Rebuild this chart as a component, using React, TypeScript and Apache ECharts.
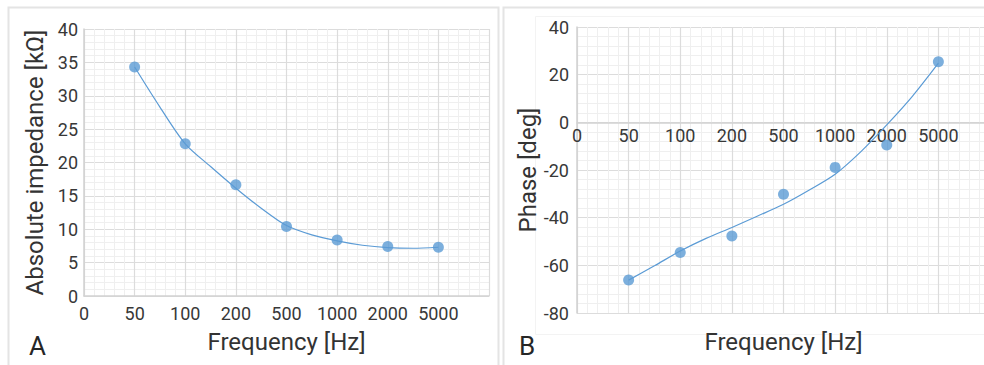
import React, { useEffect, useRef } from "react";
import * as echarts from "echarts";

const freqLabels = ["0", "50", "100", "200", "500", "1000", "2000", "5000"];
const impedance = [34.3, 22.8, 16.65, 10.4, 8.4, 7.4, 7.3];
// trendline read at half-category steps from index 1 (50 Hz) to 7 (5000 Hz)
const impedanceTrend = [34.3, 28.3, 22.8, 19.4, 16.15, 13.15, 10.55, 9.15, 8.25, 7.6, 7.25, 7.15, 7.3];
const phase = [-66.2, -54.6, -47.7, -30.2, -18.9, -9.5, 25.4];
const phaseTrend = [-66.2, -60.2, -54.0, -48.7, -44.1, -39.3, -34.4, -28.4, -21.8, -12.3, -1.1, 11.0, 24.8];

const FONT = "Roboto";
const BLUE = "#5b9bd5";
const TXT = "#383838";

const fmtX = (v: number) => (Number.isInteger(v) && v < freqLabels.length ? freqLabels[v] : "");

function xAxisCfg(gridIndex: number, labelMargin: number, nameGap: number, offset: number) {
  return {
    type: "value",
    gridIndex,
    min: 0,
    max: 8,
    interval: 1,
    offset,
    name: "Frequency [Hz]",
    nameLocation: "middle",
    nameGap,
    nameTextStyle: { fontFamily: FONT, fontSize: 24, color: "#333" },
    axisLine: { show: true, onZero: false, lineStyle: { color: "#d2d2d2", width: 1.5 } },
    axisTick: { show: false },
    axisLabel: { formatter: fmtX, fontFamily: FONT, fontSize: 18, color: TXT, margin: labelMargin, showMaxLabel: true, showMinLabel: true },
    splitLine: { show: true, lineStyle: { color: "#dcdcdc", width: 1.2 } },
    minorTick: { show: false, splitNumber: 5 },
    minorSplitLine: { show: true, lineStyle: { color: "#efefef", width: 1 } },
  };
}

function yAxisCfg(gridIndex: number, min: number, max: number, interval: number, name: string, nameGap: number, labelMargin: number) {
  return {
    type: "value",
    gridIndex,
    min,
    max,
    interval,
    name,
    nameLocation: "middle",
    nameGap,
    nameTextStyle: { fontFamily: FONT, fontSize: 24, color: "#333" },
    axisLine: { show: true, lineStyle: { color: "#d2d2d2", width: 1.5 } },
    axisTick: { show: false },
    axisLabel: { fontFamily: FONT, fontSize: 18, color: TXT, margin: labelMargin },
    splitLine: { show: true, lineStyle: { color: "#dcdcdc", width: 1.2 } },
    minorTick: { show: false, splitNumber: 5 },
    minorSplitLine: { show: true, lineStyle: { color: "#efefef", width: 1 } },
  };
}

export default function App() {
  const ref = useRef<HTMLDivElement>(null);
  useEffect(() => {
    if (!ref.current) return;
    const chart = echarts.init(ref.current, null, { renderer: "svg" });
    const halfStep = (arr: number[]) => arr.map((v, i) => [1 + i * 0.5, v]);
    const option = {
      animation: false,
      backgroundColor: "#ffffff",
      grid: [
        { left: 84, top: 29, width: 405, height: 267, outerBoundsMode: "none", containLabel: false },
        { left: 577, top: 27, width: 413, height: 286, outerBoundsMode: "none", containLabel: false },
      ],
      xAxis: [xAxisCfg(0, 8, 34, 0), xAxisCfg(1, 4, 208, -190.7)],
      yAxis: [
        yAxisCfg(0, 0, 40, 5, "Absolute impedance [kΩ]", 37, 6),
        yAxisCfg(1, -80, 40, 20, "Phase [deg]", 34, 8),
      ],
      graphic: [
        { type: "rect", shape: { x: 8.5, y: 7.5, width: 490, height: 400 }, style: { fill: "none", stroke: "#e4e4e4", lineWidth: 2 }, silent: true, z: -1 },
        { type: "rect", shape: { x: 503.5, y: 7.5, width: 500, height: 400 }, style: { fill: "none", stroke: "#e4e4e4", lineWidth: 2 }, silent: true, z: -1 },
        { type: "rect", shape: { x: 535.5, y: 16.5, width: 500, height: 318 }, style: { fill: "none", stroke: "#f3f3f3", lineWidth: 1 }, silent: true, z: -1 },
        { type: "text", left: 29, top: 333, style: { text: "A", fontFamily: FONT, fontSize: 26, fill: "#262626" } },
        { type: "text", left: 519, top: 333, style: { text: "B", fontFamily: FONT, fontSize: 26, fill: "#262626" } },
      ],
      series: [
        {
          type: "line",
          xAxisIndex: 0,
          yAxisIndex: 0,
          data: halfStep(impedanceTrend),
          smooth: 0.3,
          showSymbol: false,
          lineStyle: { color: BLUE, width: 1.2 },
          z: 3,
        },
        {
          type: "scatter",
          xAxisIndex: 0,
          yAxisIndex: 0,
          data: impedance.map((v, i) => [i + 1, v]),
          symbolSize: 11,
          itemStyle: { color: BLUE },
          z: 4,
        },
        {
          type: "line",
          xAxisIndex: 1,
          yAxisIndex: 1,
          data: halfStep(phaseTrend),
          smooth: 0.3,
          showSymbol: false,
          lineStyle: { color: BLUE, width: 1.2 },
          z: 3,
        },
        {
          type: "scatter",
          xAxisIndex: 1,
          yAxisIndex: 1,
          data: phase.map((v, i) => [i + 1, v]),
          symbolSize: 11,
          itemStyle: { color: BLUE },
          z: 4,
        },
      ],
    };
    chart.setOption(option as any);
    return () => chart.dispose();
  }, []);
  return (
    <div style={{ position: "absolute", left: 0, top: 0, width: 984, height: 365, overflow: "hidden" }}>
      <div ref={ref} style={{ width: 1000, height: 365 }} />
    </div>
  );
}
